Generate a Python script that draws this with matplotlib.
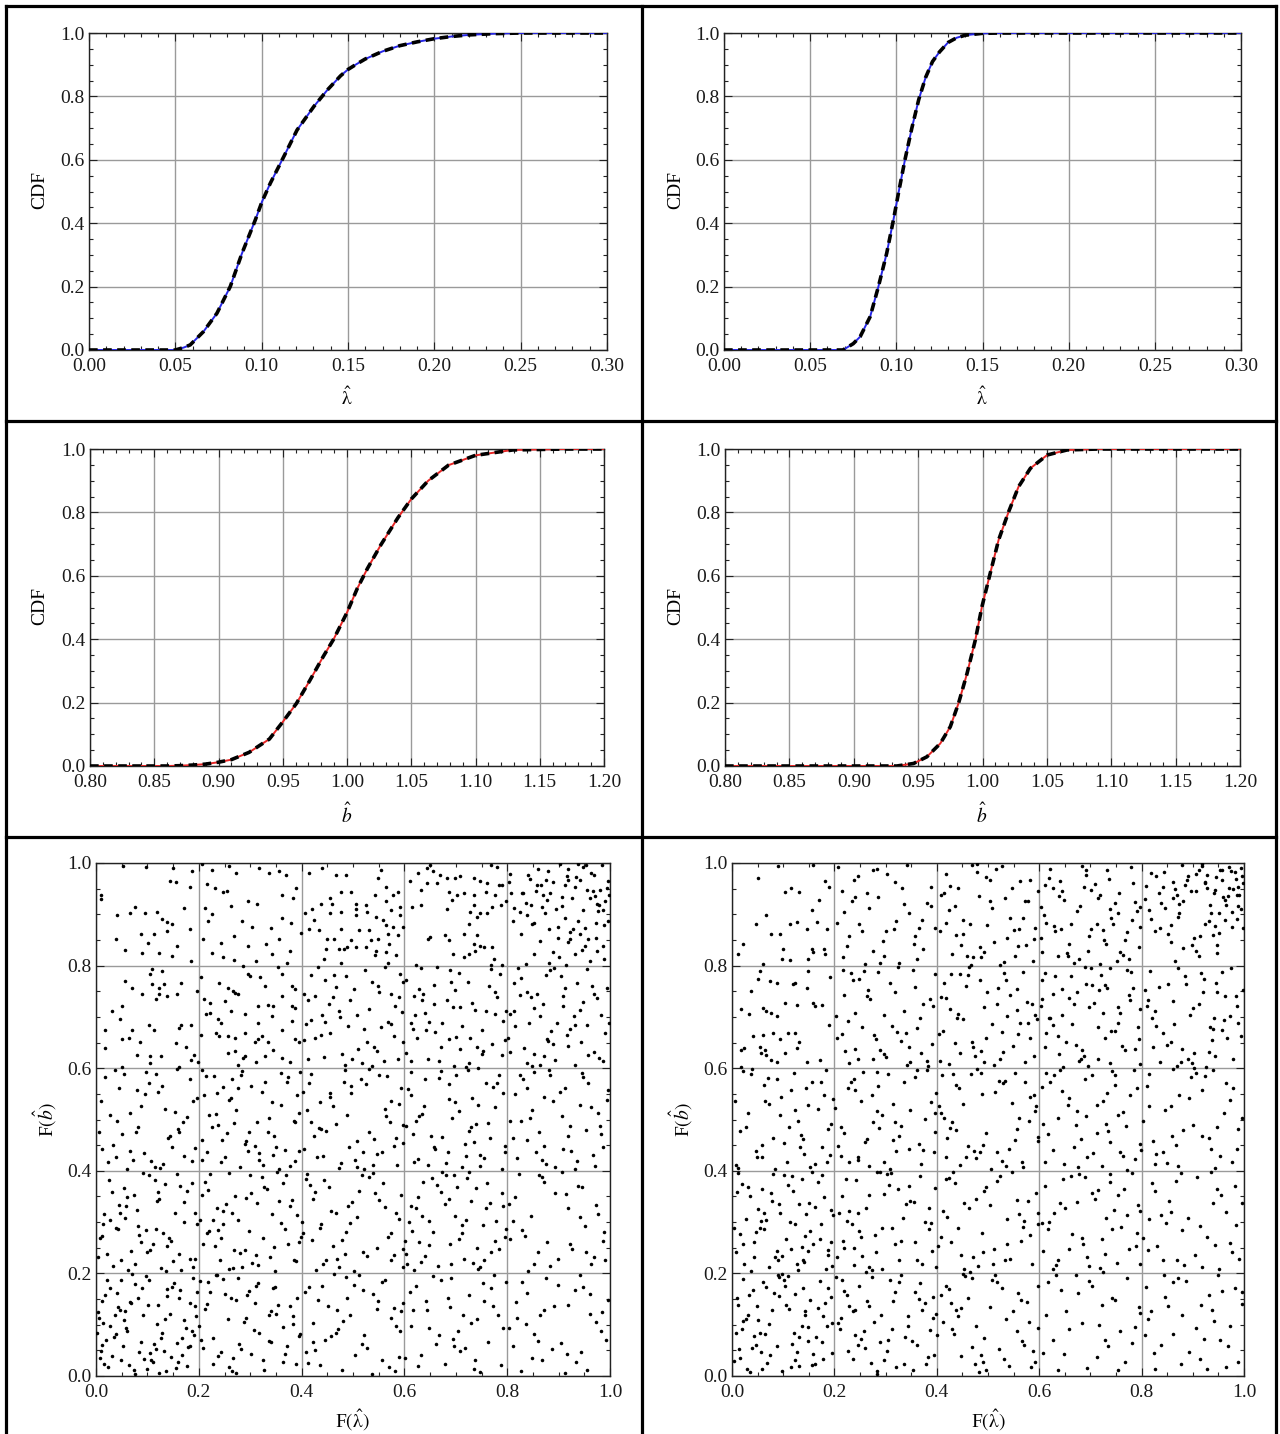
import numpy as np
import matplotlib
matplotlib.use("Agg")
import matplotlib.pyplot as plt
from matplotlib.lines import Line2D
from matplotlib.ticker import MultipleLocator, FormatStrFormatter

plt.rcParams['font.family'] = ['Liberation Serif', 'DejaVu Serif']
plt.rcParams['mathtext.fontset'] = 'stix'

# ---------------------------------------------------------------- CDF curves
# lambda-hat, wider sampling distribution (top left)
lam_wide_x = [0.00, 0.05, 0.055, 0.0586, 0.0663, 0.0741, 0.0818, 0.0886, 0.0963,
              0.1002, 0.105, 0.1128, 0.1205, 0.1302, 0.138, 0.1457, 0.150, 0.155,
              0.160, 0.170, 0.180, 0.190, 0.200, 0.210, 0.220, 0.235, 0.250, 0.300]
lam_wide_cdf = [0.0, 0.0, 0.008, 0.016, 0.058, 0.116, 0.200, 0.305, 0.410,
                0.468, 0.526, 0.610, 0.694, 0.768, 0.820, 0.865, 0.885, 0.902,
                0.918, 0.942, 0.960, 0.972, 0.982, 0.989, 0.994, 0.998, 1.0, 1.0]

# lambda-hat, narrower sampling distribution (top right)
lam_narrow_x = [0.00, 0.069, 0.075, 0.079, 0.0848, 0.0896, 0.0944, 0.0983, 0.1012,
                0.105, 0.109, 0.113, 0.117, 0.121, 0.125, 0.130, 0.135, 0.140,
                0.150, 0.160, 0.300]
lam_narrow_cdf = [0.0, 0.0, 0.020, 0.042, 0.105, 0.200, 0.305, 0.410, 0.494,
                  0.600, 0.700, 0.790, 0.860, 0.910, 0.940, 0.970, 0.985, 0.993,
                  0.999, 1.0, 1.0]

# b-hat, wider sampling distribution (middle left)
b_wide_x = [0.80, 0.86, 0.87, 0.88, 0.89, 0.90, 0.91, 0.9238, 0.9396, 0.950, 0.9606,
            0.9711, 0.9816, 0.9896, 1.0001, 1.008, 1.0159, 1.0264, 1.0396, 1.050,
            1.0632, 1.079, 1.100, 1.129, 1.170, 1.200]
b_wide_cdf = [0.0, 0.0, 0.001, 0.003, 0.006, 0.012, 0.020, 0.043, 0.085, 0.139, 0.197,
              0.270, 0.346, 0.400, 0.485, 0.560, 0.623, 0.698, 0.783, 0.842,
              0.900, 0.949, 0.980, 0.997, 1.0, 1.0]

# b-hat, narrower sampling distribution (middle right)
b_narrow_x = [0.80, 0.9335, 0.9465, 0.9568, 0.9672, 0.975, 0.9814, 0.988, 0.9944,
              0.9996, 1.006, 1.0125, 1.0203, 1.028, 1.0372, 1.0502, 1.0657, 1.090, 1.200]
b_narrow_cdf = [0.0, 0.0, 0.008, 0.029, 0.071, 0.124, 0.198, 0.292, 0.397,
                0.503, 0.608, 0.713, 0.802, 0.881, 0.939, 0.981, 0.997, 1.0, 1.0]

lam_ticks = [0.00, 0.05, 0.10, 0.15, 0.20, 0.25, 0.30]
b_ticks = [0.80, 0.85, 0.90, 0.95, 1.00, 1.05, 1.10, 1.15, 1.20]
u_ticks = [0.0, 0.2, 0.4, 0.6, 0.8, 1.0]

# ------------------------------------------------ probability-integral pairs
# each token is XXXYYY: F(lambda-hat) and F(b-hat) in thousandths
left_top = """
010930 052995 098992 150990 186984 143965 155962 182954 010937 040899 066903 075915 096903 118905 129890
139885 171912 088861 112862 138867 148881 039851 182871 056830 089824 123825 148819 184808 157838 102845
206998 226986 258995 272980 318991 337980 356985 369976 216960 232951 247944 254946 296926 313921 362937
384931 390951 213913 226900 262917 218886 285886 303876 340874 362892 380884 398863 209852 244845 268858
296839 330843 356851 378829 247816 268811 311809 343822 372805 225825
414980 466977 486977 440990 555987 548970 565954 587944 496944 456931 476944 437921 460921 506921 525918
542938 578938 565925 420911 407902 476905 506911 528905 574908 591915 424888 456902 506898 545895 558888
591898 414872 434869 476872 512869 532869 565879 578875 597875 450852 463852 496849 535849 548852 568862
587859 447833 473833 483833 489836 506836 525836 545829 571843 542820 565826 584820 443813 476806 568806
627980 643990 656984 650997 669977 643961 663961 682970 699970 709974 735970 748964 761961 781993 768997
784957 790957 633948 686944 702938 715941 692928 735938 758944 777938 798925 614915 633918 682911 735918
771915 728905 741895 748902 761902 787918 725882 646852 650856 679859 686849 715862 741859 735843 748839
754836 771836 738829 725823 695823 715816 768801 790801 774813 623801 610964
934972 867915 981948 812887 953996 898853 926931 845968 973883 906917 828942 996964 881871 947908 859989
918846 971936 836923 989879 902998 865957 942862 917974 807941 979918 853884 931953 889827 963981 824904
998937 876966 912893 957851 841977 986909 869938 928872 803963 948992 894911 972853 857946 937887 918967
826861 991925 879984 951839 913958 838898 966945 899876 984997 847919 923851 961932 873903 806979 942967
996886 884941 931823 858957 977906 919988 831941 952874 889962 975921 814912 938998 863848 994952 907933
848881 968977 923866 878927 986839 955947 901816 962809 837804 974829 915802 852823 989812 946831 881805
"""

left_upper = """
109793 129790 106783 057770 109764 070757 122757 165767 132764 090744 122744 139741 158744 196751 116734
050721 031711 018675 047695 103685 165685 185685 162678 070675 113675 050656 064659 086652 018639 155649
175642 080626 106623 126623 191626 185616 198613 106610 050603 162603
204777 240767 257757 267751 276744 286799 296783 299780 319777 329760 355797 361783 381760 388754 211734
221728 250731 270747 316721 335724 345721 361741 381721 388718 214705 221708 244688 237695 263711 289705
316688 342701 381692 204665 234669 257662 270659 289669 309652 316656 322662 335652 361675 388656 394652
257629 270633 286619 289623 312613 329623 345636 361619 378613 276606 240662
473712 418694 592783 537605 446771 509638 581722 427659 563797 491683 404745 536769 478627 555681 412618
597651 462739 524792 439703 588617 501754 456668 573744 419781 547633 484606 531715 408687 596709 467758
522676 443621 579663 495732 551748 432797 517611 486779 569690 405654 453726 540642 598768 475699 426740
560615 508703 437665 590739 464781 528652 412733 573686 499617 549761 445690
637744 712683 689791 604629 758712 795655 641708 723769 668614 781739 616677 744601 699752 632796 770648
658725 709637 786783 625659 737714 674689 603771 751627 697604 764760 619741 728658 683733 791692 645617
706786 659671 777706 628754 741642 694719 612688 789625 663798 719603 750674 635733 701661 776749 647690
613615 732727 686656 768793 620703 753634 690768 798711 671642 708719 657762 726611 642675
853718 917664 884792 806631 968745 931607 842689 995756 871623 909741 827775 956684 889648 813712 978619
935767 864701 801658 947729 892795 838611 922676 983703 858745 816683 969632 904780 877657 941713 825742
991668 848604 912757 869726 956793 833639 987614 897688 814766 929701 852628 974737 886672 821795 944651
908722 863607 998689 839749 957626 876781 918643 806705 965761 893616 847738 931685 879653
"""

left_middle = """
067512 143467 018583 172428 095549 124406 051471 188536 036597 159482 107419 079558 012443 134521 183579
061403 148447 027509 116588 093434 170496 044562 131413 005475 196541 082486 158598 039427 121553 066439
177504 104571 023418 140463 087527 193445 054589 115408 010537 162476 072422 129566 041498 186419 098593
033451 153514 078476
247563 318421 386497 229584 351446 273518 396592 215437 334475 262541 378409 301566 238489 359528 289453
207597 325412 391547 254473 282586 344431 219508 371574 296438 236552 313495 388419 264579 207461 342534
281407 359591 226486 309449 394513 251426 277561 336502 214584 368441 298476 243417 322553 387496 259538
206422 347467 285594 233511 317435 374582 292459 211547 356404 268493 329573 395438 246461
461527 538412 419589 583463 497551 442428 572496 516578 405443 589531 473406 526569 438482 557437 484597
411518 598455 532476 456543 503421 567584 424467 489509 546432 415572 579448 467491 521403 593562 436534
508459 551587 477416 418496 563521 492447 531599 447478 586412 402553 519437 564506 483574 429426 541462
597489 455551 508408 574537 434484 496566
652468 731542 619417 784586 693503 748431 607559 726477 671594 795449 638526 712408 759571 684437 623498
777525 701586 645412 766463 612547 739491 687569 754424 629506 796437 668581 718452 604488 743529 681415
773563 657447 724597 616472 789404 699534 735457 641578 762493 627423 706517 791552 674466 613592 748409
686539 729486 659443 781572 634511 719428
871543 936419 824587 983472 857436 912561 806498 964524 893407 948583 839461 977512 816549 925438 882596
953479 867421 997557 844503 908442 831578 971409 889536 922487 812463 958571 876414 941528 853592 987446
827497 903554 966431 848519 919468 884587 932403 861476 994538 819424 945591 872449 907506 838562 981487
"""

left_lower = """
043287 118342 076219 164371 027305 139254 091396 182228 058331 007269 153317 114382 069243 196296 031358
127211 084274 172339 049227 103391 016316 145263 061349 188212 097285 135374 022238 171301 054367 111258
079323 166206 038289 123345 004231 157394 088262 192318 062207 131279 045333 106246 178361 014297 149224
073352 117287 034214 186376 099241 057308 142269 026383 161237 081292 120359 011273 193229 047318 136204
264318 347251 212379 385226 291347 238284 369392 316217 253336 398271 227305 332364 281239 359298 206353
304221 377331 243269 322387 268246 391313 218362 349204 297283 236327 374258 259396 311235 203304 356341
284213 327368 248297 389224 271351 215278 342316 299392 231253 367286 258209 314337 395262 222393 338231
276304 208258 363377 289245 247321 325269 381343 266211 301357 219282 352398 241226
437296 512361 468228 583317 409384 546249 491332 428207 574278 453368 527234 401301 594353 479265 518392
441219 563329 486281 422346 597212 532387 461254 508309 416373 579236 494298 447227 551344 403279 538395
472213 589306 426358 519242 457321 568271 411393 484237 543356 435289 597248 466317 502204 558376 421265
573227 498339 443383
626348 713279 681392 754226 608301 739367 665214 792331 647256 721385 604238 698312 776263 637379 752294
619207 687346 733221 663373 798287 612332 741249 674398 707268 789356 632223 719305 656281 767337 601264
696391 748213 623327 784248 671359 712295 641234 761376 606218 729341 688257 779303 653386 716229 635312
795271 679336 744209 614283 702368 769242 647303 725397 691219 758328 628261
847312 923258 868387 991226 815349 952293 884214 937371 806267 973334 859241 906398 829285 964219 893356
841204 918327 987263 872379 953241 811303 946368 898229 834272 976316 861392 927247 803336 989281 852218
915354 878261 941309 823393 968232
"""

left_bottom = """
047128 113063 021187 168041 082152 136009 059094 194117 008036 147173 073011 121138 035076 182059 098194
014103 159027 066145 129083 041162 177019 088067 003124 152181 106044 027098 193136 064021 138156 019071
171109 093033 048187 117052 011146 186088 076004 143121 031039 164167 054109 126075 099013 017157 183142
039081 111028 071198 158064 006113 132049 089171 024017 176093 057126 103188 145037 012061 191079 068143
123006 036119 162153 084046 002084 139169 049031 119101 179057 028172 091119 155016 061088 009049 197163
107032 043134 167074 076179 016024 134112 053058 188191 101139
273148 341067 218183 389024 256112 312176 237039 364095 294158 205071 378137 326012 248189 283053 351121
222164 397082 267036 309143 234197 372058 287105 213131 345172 259017 318084 391153 243046 336119 276192
201098 363027 298166 228074 355138 264009 383101 316181 209055 341127 279062 235196 368043 292114 251159
325031 394078 216141 307089 272006 349173 227024 384116 263152 337069 202186 301043
452137 517062 486193 571018 423104 538159 409047 593126 467084 502178 556031 431149 584097 478012 519167
445071 597143 412026 563188 494119 528054 439176 581009 471092 546131 407163 589038 458077 511196 436021
574114 489152 422066 557183 503041 468129 592087 414174 536003 481108 548146 427051 579133 463198 521079
643128 718054 671187 792093 627019 754146 695072 611163 738031 783119 656194 704087 632041 769171 688134
747008 613097 726158 661062 798183 679024 741112 623176 709049 772136 648093 691191 736014 617128 763067
684153 601036 729104 753182 668079 787021 642147 714119 696058 775196
839162 917043 864118 983087 826009 948174 891136 812059 962121 876191 934027 853081 997148 819113 905064
941197 868031 973106 829183 918139 887052 956012 804094 931167 849036 992071 872129 913005 961159 836101
898178 944047 817144 985124 859068
"""

right_top = """
051970 103944 116951 130944 182964 189954 169928 156908 067898 047882 113882 126885 146872 166885 185872
077862 093862 100833 011823 021843 156833 159826 179833 182823 060803 097813 113810 149813 159997 090995
241933 317871 276986 362812 218905 389954 294847 335921 253868 208992 371889 286934 326806 239967 357858
268912 303979 224839 381923 249881 342997 297818 214946 365874 276829 333951 206884 388917 259803 318962
229857 373833 284989 346902 217817 301868 263941 397874 234925 355843 289806 321887 247975
436917 512846 478983 561872 409938 587809 451861 528994 493827 547951 417883 572926 466802 503967 538854
424909 591873 482936 459818 516988 575841 441952 498879 553818 406867 534931 468996 589851 429822 507913
562964 485837 418978 543892 471817 597945 452889 523801 579926 437859 496973 558838 414941 531807 464882
582967 503926 447841 569893 487816 425956 551869 479999
627952 713881 684994 758827 603914 736968 659843 791906 642871 718937 776812 621989 697858 749923 668806
783961 613884 727849 691976 754902 636819 702947 771866 648928 794837 619971 741893 677812 709959 662881
788924 604853 733987 695829 756941 631867 718803 679917 797876 645945 764821 609898 724869 687953 752808
638936 701872 779993 654824 612957 745881 673906 731842 796915 628878 692987 767849 657819 714932 641964
782889 606827 739911
923961 871894 957987 834942 988916 902853 946972 815908 979949 862931 931887 997974 884958 912819 968936
843983 951902 827867 994991 906946 873921 939859 985968 858879 917995 962928 809956 948841 891975 976904
838923 924963 998873 866949 953987 881834 933918 971952 819891 907979 986937 852861 941942 878997 963889
829974 995911 914857 957966 845912 896945 982982 923881 869938 947824 971993 806929 935903 889966 989954
858846 912987 977876 841953 965919 898841 928976 990938 873902 952864 819981 944947 987891 861963 906829
974985 836874 959934 917999 881926 999961 943878 866809 927952
"""

right_upper = """
054790 051774 037751 074770 087767 120764 123767 146757 149790 192777 018715 034705 060718 067711 077708
087701 103728 126724 159728 162721 176724 189685 041662 060665 080669 093656 110669 123669 130652 018636
024639 054642 064636 067626 057629 077616 087613 103629 126639 146613 172616 018603
263741 339668 217792 381615 296704 241637 358759 312683 228611 374726 285788 206659 347612 269735 324797
391648 253681 301622 236771 367697 219743 342606 278664 396783 247618 318749 289636 204702 361679 233786
331653 275617 387734 214667 354791 296628 241708 323671 265753 382604 227692 309767 346641 257789 392721
221634 336711 281657 248774 370629
417736 528671 463798 589623 441705 556754 492612 508687 435649 577729 461781 524618 596696 412673 543742
487633 568788 426716 511606 458761 582658 439697 536772 475624 557713 404667 498749 529631 446783 591704
468652 517726 423608 563689 484771 549643 409738 573612 452695 531786 496659 415767 586726 471641 538701
428784 559667 493719 445629 519756 578688 406614
645703 721781 687624 776742 613668 739611 702795 658736 794657 631779 754689 677614 716753 603721 768636
689798 741672 626745 797609 664687 728763 611641 753719 695604 779788 637662 708727 662779 787638 619697
733756 681618 749673 606734 771792 653651 724708 691765 639627 796716 674749 715681 611786 761643 698719
647602 783757 626684 739795 683636 757708 605771 729659 667725 792681 644754 714617 778733 621698 703763
671645
862731 938654 817789 973702 891618 946767 829683 984741 903629 871796 957674 835612 919748 988689 852765
926603 811721 967658 884779 942697 823641 998753 876612 913726 958788 841669 931631 895704 806752 979617
864687 922773 849645 987721 903601 834759 961694 879638 916786 995662 827711 948749 869604 934681 812733
975796 857652 901718 944623 886764 821697 963741 898611 939677
"""

right_middle = """
073531 138462 021594 186417 094508 157573 046439 112486 179548 008412 063567 129497 192431 037589 101454
168521 084403 145562 016478 197539 059426 121591 176447 031513 088579 153408 006536 134469 071581 193492
049427 116558 162413 027486 096544 141432 183597 058451 123519 011406 174574 081463 149528 039599 107418
188481 064537 132447
251537 327468 284592 369413 213486 398551 246427 336574 292509 207448 381597 263462 314531 229418 357583
276496 394437 241558 309404 348519 218473 286566 373441 255592 331487 201523 366452 297418 239579 318496
389534 268409 226561 345443 283517 397476 212428 304588 259456 376501 233574 321439 288483 362596 247421
397512 274547 315461
443562 518437 487591 569408 426483 593527 461449 534576 409512 552461 478598 417426 583543 496473 527419
438567 561502 484437 411586 597458 452531 506404 573574 429496 541442 467588 592517 419463 536409 488549
557481 404527 473438 529572 446412 581497 513553 458426 598466 431589 547533 491451 566417 414502 521576
476424 589548 437479 553591
658542 734478 613591 787423 692506 748567 627441 713529 769487 641596 796452 674517 722409 606563 758436
689578 731492 649414 777548 618471 704586 764429 636503 791561 667447 743594 611418 725536 681462 753509
629587 798441 712473 657528 772401 644556 706434 786597 671489 739456 621573 763515 694427 608491 733552
676408 749587
857526 931463 814588 976417 893541 948486 829432 964571 872409 917557 803497 987443 846519 924584 868451
953428 811566 996503 881479 939597 827414 972538 859468 907591 842437 961512 896583 823459 944406 874547
989481 815527 936443 861598 918467 849415 978562 901489
"""

right_lower = """
062318 137251 019374 174296 089227 151338 043262 118389 196214 027307 076356 143273 008241 162329 101392
054288 188236 035351 127219 093317 171268 012395 148243 067304 109372 183209 046281 131336 021258 157397
084231 197313 059364 116247 004289 141223 079342 168378 038205 124297 193261 051326 097233 136384 016276
179348 072212 113301 158257 031369 087244 194323 063287 129207 009358 145316 105268 176392 042232 092335
153283 024219 119361 187246 057302 138227 081394
247318 331264 289397 362227 215351 384286 268213 306372 239249 356339 293208 377301 222384 318257 261328
398213 234296 345371 281241 209317 367389 252271 326226 297354 388298 216264 339336 274207 243383 312289
391243 229321 358262 283397 205231 334308 267352 371219 249283 302394 219249 385327 261203 324364 292288
238217 347341 279274 396366 254234 311396 224302
463327 538258 417384 586219 492361 447236 571302 524389 408271 556343 481214 597318 436376 512247 569291
454208 593356 428262 503334 547397 471231 419309 582274 496368 533226 441289 578341 465203 517381 402253
561316 488279 543229 431397 598297 476346 509218 454337 564263 423385 537306 491241 412321
641337 723268 678394 796219 617286 754352 693231 738379 626209 771314 659247 714363 605298 782396 686257
747324 633216 709346 791278 662389 728237 619301 766365 697214 743286 651327 789253 611371 725203 673339
759291 636226 704357 796322 684269 718211 647384 776248 628318 739394 665276 792334 607243 731308 689387
752221
853342 927271 876396 991228 814307 948364 882216 965319 831253 909387 976241 847298 939337 803269 918213
867381 984294 842227 956352 891308 821376 973259 904235 858319 936398 812246 997337 879284 951209 826361
914292 869227 982371 837314 943256
"""

right_bottom = """
048137 117062 022189 163024 091156 136098 059013 187171 008083 142127 074041 109194 031118 175067 097009
152148 014052 061183 124031 196104 043077 083162 131019 167133 019091 104176 057047 178116 036007 148069
089196 011138 121083 069026 193154 027112 158043 101187 046061 139171 004029 186097 079129 115018 034158
164076 051109 127047 092193 016036 181143 064081 143119 029014 171186 087058 112131 041167 196044 073101
131076 009152 156022 097198 054084 123159 022107 178033 066174 149096 039054 106139
263147 338076 214188 379023 291119 246061 357164 312092 229136 395041 274193 321017 207104 366151 252072
308188 383038 237126 344097 283009 218166 371129 259054 327183 296031 392114 241079 315147 203193 361061
278106 336024 224158 387089 267136 302048 248176 354012 211092 376143 289067 331197 236033 398121 257088
319163 283004 344117 226049 368182 241129 305071 393154 272026 213113 351068
437128 521053 468191 584017 412106 559162 493074 447039 576144 508187 429091 592028 461153 536112 482007
417176 567069 503134 451198 588049 434082 527171 474023 549126 409158 597093 486041 518183 442117 571061
456194 532034 401079 564148 497012 423169 581106 469056 513196 448133 556087 491027 427142 598176 477098
541019
652127 734058 618183 787096 693016 749149 627071 771192 684104 712037 643168 796123 608044 758087 671197
723139 636011 781064 704176 659092 742153 614119 767028 697186 728071 649043 794134 676162 716099 633197
753011
846154 921073 872191 989028 813112 957166 893047 938129 827014 972098 861183 914034 996141 838061 949197
879119 807079 931158 964018 852136 906093 983172 824044 941107 887186 969059 818127 928013 861082 997163
843196 916139 954071 876024 809173
"""


def unpack(*blocks):
    codes = np.array([int(t) for b in blocks for t in b.split()])
    return codes // 1000 / 1000.0, codes % 1000 / 1000.0


# ---------------------------------------------------------------- layout
W, H = 1280, 1434
fig = plt.figure(figsize=(W / 100, H / 100), dpi=100)


def px_axes(x0, y0, x1, y1):
    return fig.add_axes([x0 / W, 1 - y1 / H, (x1 - x0) / W, (y1 - y0) / H])


def fig_text(x, y, s, **kw):
    fig.text(x / W, 1 - y / H, s, ha='center', va='center', fontsize=14, **kw)


GRID = '#9a9a9a'


def frame_style(ax, xmajor, xminor, ymajor, yminor, xfmt, yfmt):
    ax.xaxis.set_major_locator(MultipleLocator(xmajor))
    ax.xaxis.set_minor_locator(MultipleLocator(xminor))
    ax.yaxis.set_major_locator(MultipleLocator(ymajor))
    ax.yaxis.set_minor_locator(MultipleLocator(yminor))
    ax.xaxis.set_major_formatter(FormatStrFormatter(xfmt))
    ax.yaxis.set_major_formatter(FormatStrFormatter(yfmt))
    ax.set_axisbelow(True)
    ax.grid(True, which='major', color=GRID, lw=1.0)
    ax.tick_params(which='both', direction='in', top=True, right=True,
                   color='#222222', width=0.8, labelsize=14, labelcolor='#1a1a1a')
    ax.tick_params(which='major', length=6)
    ax.tick_params(which='minor', length=3)
    ax.tick_params(axis='x', pad=6)
    ax.tick_params(axis='y', pad=3)
    for sp in ax.spines.values():
        sp.set_color('#222222')
        sp.set_linewidth(1.0)


def cdf_panel(box, xs, ys, color, xlim, xticks):
    ax = px_axes(*box)
    ax.plot(xs, ys, color=color, lw=1.4, solid_capstyle='round', zorder=3)
    ax.plot(xs, ys, color='black', lw=2.6, dashes=(2.4, 1.5), zorder=4)
    ax.set_xlim(*xlim)
    ax.set_ylim(0, 1)
    frame_style(ax, 0.05, 0.01, 0.2, 0.05, '%.2f', '%.1f')
    ax.set_xticks(xticks)
    return ax


BLUE = '#2626e6'
RED = '#e62626'

cdf_panel((89, 33, 607, 350), lam_wide_x, lam_wide_cdf, BLUE, (0, 0.3), lam_ticks)
cdf_panel((724, 33, 1241, 350), lam_narrow_x, lam_narrow_cdf, BLUE, (0, 0.3), lam_ticks)
cdf_panel((90, 449, 604, 766), b_wide_x, b_wide_cdf, RED, (0.8, 1.2), b_ticks)
cdf_panel((725, 449, 1240, 766), b_narrow_x, b_narrow_cdf, RED, (0.8, 1.2), b_ticks)


def copula_panel(box, u, v):
    ax = px_axes(*box)
    ax.scatter(u, v, s=6.5, c='black', marker='o', linewidths=0, zorder=3)
    ax.set_xlim(0, 1)
    ax.set_ylim(0, 1)
    frame_style(ax, 0.2, 0.05, 0.2, 0.05, '%.1f', '%.1f')
    ax.set_xticks(u_ticks)
    ax.set_yticks(u_ticks)
    return ax


uL, vL = unpack(left_top, left_upper, left_middle, left_lower, left_bottom)
uR, vR = unpack(right_top, right_upper, right_middle, right_lower, right_bottom)
copula_panel((96, 863, 610, 1376), uL, vL)
copula_panel((732, 863, 1244, 1376), uR, vR)

# axis titles
for xc in (40, 676):
    fig_text(xc, 190, 'CDF', rotation=90)
    fig_text(xc, 606, 'CDF', rotation=90)
lam_hat = r'$\hat{\mathrm{\lambda}}$'
fig_text(347, 398, lam_hat)
fig_text(982, 398, lam_hat)
fig_text(347, 815, r'$\hat{b}$')
fig_text(982, 815, r'$\hat{b}$')
fig_text(45, 1120, r'F$(\hat{b})$', rotation=90)
fig_text(681, 1120, r'F$(\hat{b})$', rotation=90)
fig_text(352, 1420, r'F$(\hat{\mathrm{\lambda}})$')
fig_text(988, 1420, r'F$(\hat{\mathrm{\lambda}})$')


# table rules around the six panels
def rule(x0, y0, x1, y1):
    fig.add_artist(Line2D([x0 / W, x1 / W], [1 - y0 / H, 1 - y1 / H],
                          color='black', lw=2.3, transform=fig.transFigure,
                          solid_capstyle='projecting'))


rule(6, 6, 1276, 6)
rule(6, 6, 6, 1434)
rule(1276, 6, 1276, 1434)
rule(642, 6, 642, 1434)
rule(6, 421, 1276, 421)
rule(6, 837, 1276, 837)

fig.savefig('out.png', dpi=100, facecolor='white')
